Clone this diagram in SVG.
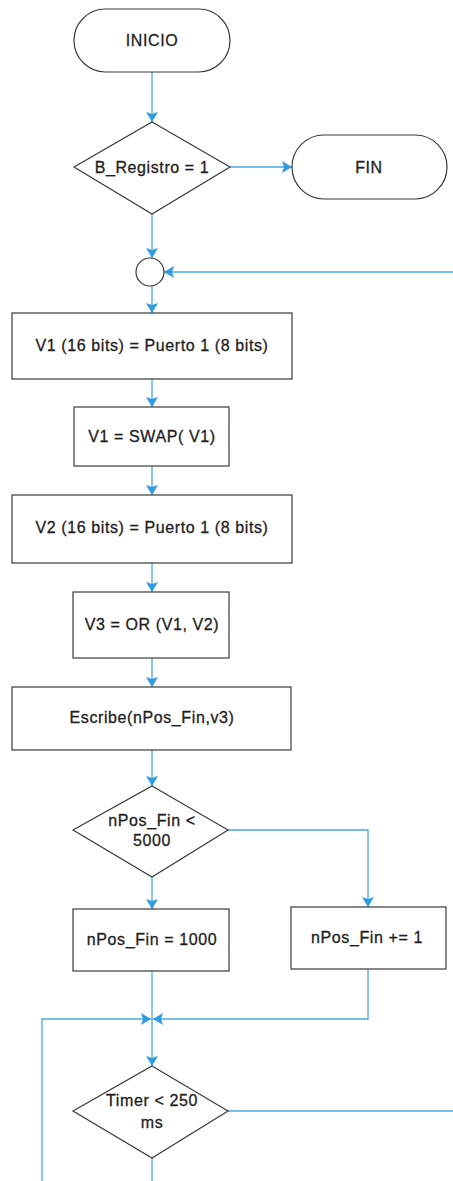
<svg xmlns="http://www.w3.org/2000/svg" width="453" height="1181" viewBox="0 0 453 1181">
  <style>
    .node { fill: #ffffff; stroke: #3a3a3a; stroke-width: 1.2; }
    .label { font-family: "Liberation Sans", Arial, sans-serif; font-size: 16px; letter-spacing: 0.6px; fill: #1e1e1e; text-anchor: middle; dominant-baseline: central; stroke: #1e1e1e; stroke-width: 0.3; }
    .wire { fill: none; stroke: #4aa8e0; stroke-width: 1.3; }
  </style>
  <defs>
    <marker id="head" viewBox="0 0 10 12" refX="10" refY="6" markerWidth="10" markerHeight="12" markerUnits="userSpaceOnUse" orient="auto">
      <path d="M0,0 L10,6 L0,12 L2,6 Z" fill="#2f9be0"/>
    </marker>
  </defs>
  <rect width="453" height="1181" fill="#ffffff"/>

  <g id="connectors">
    <path class="wire" d="M152,72 V122" marker-end="url(#head)"/>
    <path class="wire" d="M230,167 H292" marker-end="url(#head)"/>
    <path class="wire" d="M152,214 V258" marker-end="url(#head)"/>
    <path class="wire" d="M453,272 H164" marker-end="url(#head)"/>
    <path class="wire" d="M152,286 V313" marker-end="url(#head)"/>
    <path class="wire" d="M152,379 V407" marker-end="url(#head)"/>
    <path class="wire" d="M152,466 V495" marker-end="url(#head)"/>
    <path class="wire" d="M152,563 V592" marker-end="url(#head)"/>
    <path class="wire" d="M152,658 V687" marker-end="url(#head)"/>
    <path class="wire" d="M152,750 V786" marker-end="url(#head)"/>
    <path class="wire" d="M152,877 V909" marker-end="url(#head)"/>
    <path class="wire" d="M228,830 H368 V907" marker-end="url(#head)"/>
    <path class="wire" d="M368,969 V1019 H153" marker-end="url(#head)"/>
    <path class="wire" d="M42,1181 V1019 H151" marker-end="url(#head)"/>
    <path class="wire" d="M152,971 V1066" marker-end="url(#head)"/>
    <path class="wire" d="M228,1111 H453"/>
    <path class="wire" d="M152,1158 V1181"/>
  </g>

  <g id="inicio">
    <rect class="node" x="74" y="9" width="156" height="63" rx="31.5"/>
    <text class="label" x="152" y="40">INICIO</text>
  </g>
  <g id="b-registro">
    <polygon class="node" points="152,122 230,167 152,214 74,167"/>
    <text class="label" x="152" y="167">B_Registro = 1</text>
  </g>
  <g id="fin">
    <rect class="node" x="292" y="135" width="155" height="64" rx="32"/>
    <text class="label" x="369" y="167">FIN</text>
  </g>
  <g id="union">
    <circle class="node" cx="150" cy="272" r="14"/>
  </g>
  <g id="lee-v1">
    <rect class="node" x="12" y="313" width="280" height="66"/>
    <text class="label" x="152" y="345">V1 (16 bits) = Puerto 1 (8 bits)</text>
  </g>
  <g id="swap-v1">
    <rect class="node" x="74" y="407" width="155" height="59"/>
    <text class="label" x="152" y="436">V1 = SWAP( V1)</text>
  </g>
  <g id="lee-v2">
    <rect class="node" x="12" y="495" width="280" height="68"/>
    <text class="label" x="152" y="527">V2 (16 bits) = Puerto 1 (8 bits)</text>
  </g>
  <g id="or-v3">
    <rect class="node" x="73" y="592" width="156" height="66"/>
    <text class="label" x="152" y="624">V3 = OR (V1, V2)</text>
  </g>
  <g id="escribe">
    <rect class="node" x="12" y="687" width="279" height="63"/>
    <text class="label" x="152" y="717">Escribe(nPos_Fin,v3)</text>
  </g>
  <g id="npos-menor">
    <polygon class="node" points="152,786 228,830 152,877 73,830"/>
    <text class="label" x="152" y="820">nPos_Fin &lt;</text>
    <text class="label" x="152" y="840">5000</text>
  </g>
  <g id="npos-1000">
    <rect class="node" x="73" y="909" width="156" height="62"/>
    <text class="label" x="152" y="939">nPos_Fin = 1000</text>
  </g>
  <g id="npos-inc">
    <rect class="node" x="291" y="907" width="155" height="62"/>
    <text class="label" x="367" y="937">nPos_Fin += 1</text>
  </g>
  <g id="timer">
    <polygon class="node" points="152,1066 228,1111 152,1158 73,1111"/>
    <text class="label" x="152" y="1100">Timer &lt; 250</text>
    <text class="label" x="152" y="1122">ms</text>
  </g>
</svg>
